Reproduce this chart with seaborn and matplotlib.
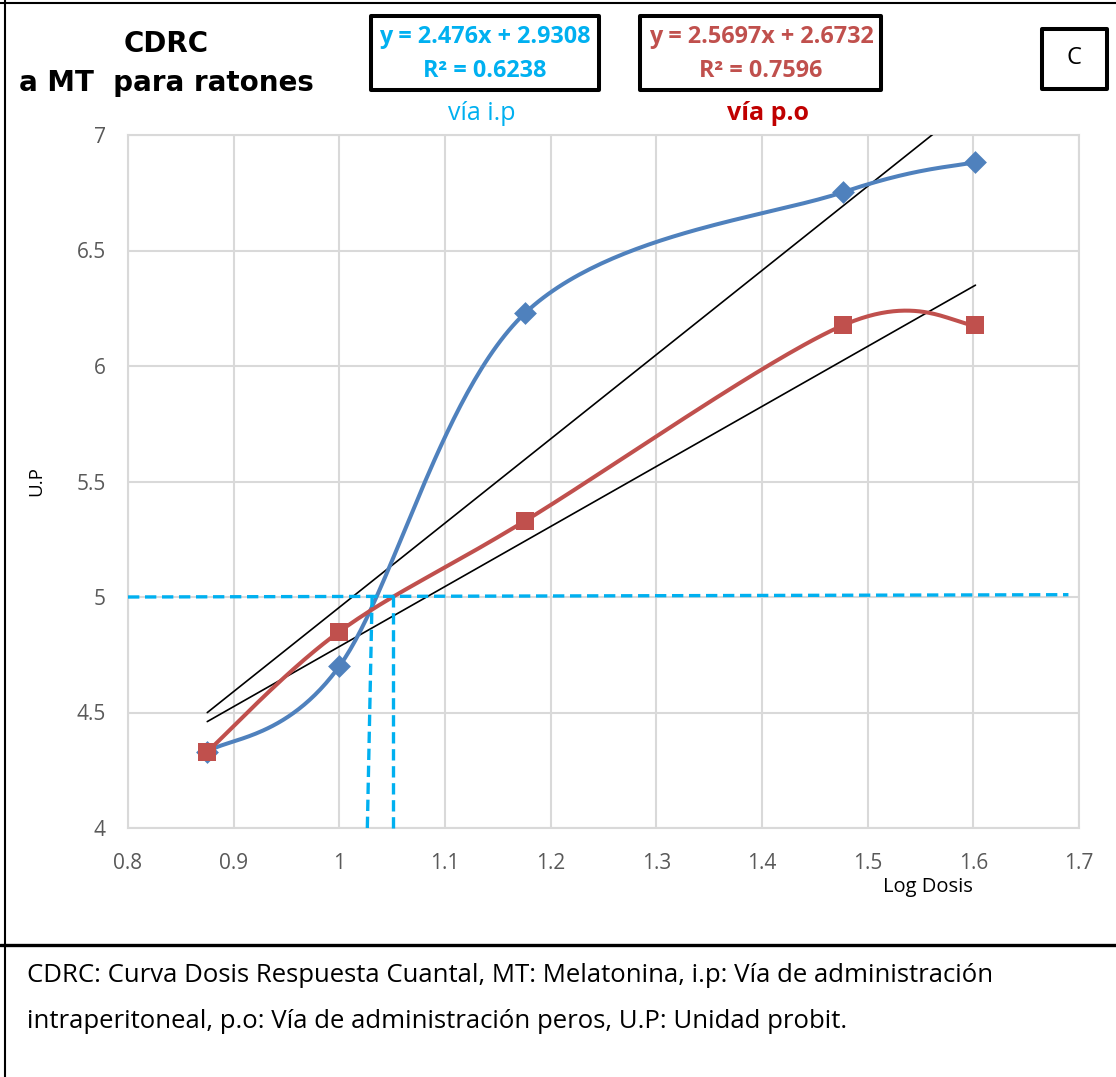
import numpy as np
import pandas as pd
import matplotlib
matplotlib.use("Agg")
import matplotlib.pyplot as plt
import seaborn as sns
from matplotlib.patches import Rectangle
from matplotlib.lines import Line2D

# ---------------- data ----------------
log_dosis = [0.875, 1.0, 1.176, 1.477, 1.602]
up_ip = [4.33, 4.70, 6.23, 6.753, 6.883]
up_po = [4.33, 4.85, 5.33, 6.177, 6.177]

eq_ip = ["y = 2.476x + 2.9308", "R² = 0.6238"]
eq_po = ["y = 2.5697x + 2.6732", "R² = 0.7596"]
label_ip = "vía i.p"
label_po = "vía p.o"
title_lines = ["CDRC", "a MT  para ratones"]
panel_letter = "C"
x_label = "Log Dosis"
y_label = "U.P"
caption_lines = ["CDRC: Curva Dosis Respuesta Cuantal, MT: Melatonina, i.p: Vía de administración",
                 "intraperitoneal, p.o: Vía de administración peros, U.P: Unidad probit."]

# reference guide (dashed) lines
guide_h_x = [0.8, 1.69]
guide_h_y = [5.0, 5.01]
guide_v1_x = [1.0265, 1.031]
guide_v1_y = [4.0, 5.0]
guide_v2_x = [1.0505, 1.0505]
guide_v2_y = [4.0, 5.02]

x_ticks = [0.8, 0.9, 1.0, 1.1, 1.2, 1.3, 1.4, 1.5, 1.6, 1.7]
x_ticklabels = ["0.8", "0.9", "1", "1.1", "1.2", "1.3", "1.4", "1.5", "1.6", "1.7"]
y_ticks = [4, 4.5, 5, 5.5, 6, 6.5, 7]
y_ticklabels = ["4", "4.5", "5", "5.5", "6", "6.5", "7"]

BLUE = "#4F81BD"
RED = "#C0504D"
CYAN = "#00B0F0"
DARKRED = "#C00000"
GRID = "#D9D9D9"
TICK = "#595959"


def smooth(xs, ys, n=60):
    """Excel-style smoothed line (Catmull-Rom cubic Bezier)."""
    P = np.column_stack([xs, ys]).astype(float)
    ext = np.vstack([P[0], P, P[-1]])
    out = []
    t = np.linspace(0, 1, n)[:, None]
    for i in range(len(P) - 1):
        p0 = ext[i + 1]
        p3 = ext[i + 2]
        c1 = p0 + (ext[i + 2] - ext[i]) / 6.0
        c2 = p3 - (ext[i + 3] - ext[i + 1]) / 6.0
        seg = ((1 - t) ** 3) * p0 + 3 * ((1 - t) ** 2) * t * c1 + 3 * (1 - t) * t ** 2 * c2 + t ** 3 * p3
        out.append(seg if i == 0 else seg[1:])
    s = np.vstack(out)
    return s[:, 0], s[:, 1]


sns.set_theme(style="white")
plt.rcParams["font.family"] = ["Open Sans", "DejaVu Sans"]

W, H = 1116, 1077
fig = plt.figure(figsize=(W / 100, H / 100), dpi=100)
fig.patch.set_facecolor("white")


def fx(px):
    return px / W


def fy(py):
    return 1 - py / H


ax = fig.add_axes([fx(128), fy(828), fx(1079) - fx(128), fy(135) - fy(828)])

# trend lines from linear fits of the data
xs_fit = np.array([log_dosis[0], log_dosis[-1]])
for yv in (up_ip, up_po):
    m, b = np.polyfit(log_dosis, yv, 1)
    ax.plot(xs_fit, m * xs_fit + b, color="black", lw=1.2, zorder=3)

# smoothed series
sx, sy = smooth(log_dosis, up_ip)
ax.plot(sx, sy, color=BLUE, lw=2.9, zorder=4, solid_capstyle="round")
sx, sy = smooth(log_dosis, up_po)
ax.plot(sx, sy, color=RED, lw=2.9, zorder=4, solid_capstyle="round")

df = pd.DataFrame({"x": log_dosis * 2,
                   "y": up_ip + up_po,
                   "via": ["ip"] * len(log_dosis) + ["po"] * len(log_dosis)})
sns.scatterplot(data=df[df.via == "ip"], x="x", y="y", marker="D", s=135,
                color=BLUE, edgecolor=BLUE, linewidth=0, ax=ax, zorder=5, legend=False)
sns.scatterplot(data=df[df.via == "po"], x="x", y="y", marker="s", s=175,
                color=RED, edgecolor=RED, linewidth=0, ax=ax, zorder=5, legend=False)

# dashed guide lines
for gx, gy in ((guide_h_x, guide_h_y), (guide_v1_x, guide_v1_y), (guide_v2_x, guide_v2_y)):
    ax.plot(gx, gy, color=CYAN, lw=2.4, ls=(0, (3.4, 1.7)), zorder=6, clip_on=False)

ax.set_xlim(0.8, 1.7)
ax.set_ylim(4, 7)
ax.set_xticks(x_ticks)
ax.set_xticklabels(x_ticklabels)
ax.set_yticks(y_ticks)
ax.set_yticklabels(y_ticklabels)
ax.tick_params(axis="both", length=0, labelsize=15, labelcolor=TICK)
ax.tick_params(axis="x", pad=18)
ax.tick_params(axis="y", pad=16)
ax.grid(True, color=GRID, lw=1.5)
ax.set_axisbelow(True)
for sp in ax.spines.values():
    sp.set_color(GRID)
    sp.set_linewidth(1.5)
ax.set_xlabel("")
ax.set_ylabel("")

fig.text(fx(928), fy(887), x_label, ha="center", va="center", fontsize=14.5, color="black")
fig.text(fx(36), fy(481), y_label, ha="center", va="center", fontsize=13.5, rotation=90, color="black")

# title
fig.text(fx(166), fy(44), title_lines[0], ha="center", va="center", fontsize=20,
         fontweight="bold", color="black", family="DejaVu Sans")
fig.text(fx(166), fy(83), title_lines[1], ha="center", va="center", fontsize=20,
         fontweight="bold", color="black", family="DejaVu Sans")


# equation boxes
def box(x0, y0, x1, y1, lw):
    fig.patches.append(Rectangle((fx(x0), fy(y1)), fx(x1) - fx(x0), fy(y0) - fy(y1),
                                 transform=fig.transFigure, fill=False, ec="black", lw=lw,
                                 joinstyle="round", zorder=10))

box(371, 16, 599, 90, 2.9)
box(640, 16, 881, 90, 2.9)
box(1042, 29, 1107, 89, 2.9)

fig.text(fx(485), fy(37), eq_ip[0], ha="center", va="center", fontsize=16.8, fontweight="bold",
         color=CYAN)
fig.text(fx(485), fy(71), eq_ip[1], ha="center", va="center", fontsize=16.8, fontweight="bold",
         color=CYAN)
fig.text(fx(761), fy(37), eq_po[0], ha="center", va="center", fontsize=16.8, fontweight="bold",
         color=RED)
fig.text(fx(761), fy(71), eq_po[1], ha="center", va="center", fontsize=16.8, fontweight="bold",
         color=RED)
fig.text(fx(1074), fy(58), panel_letter, ha="center", va="center", fontsize=17, color="black")
fig.text(fx(482), fy(113), label_ip, ha="center", va="center", fontsize=18, color=CYAN)
fig.text(fx(768), fy(113), label_po, ha="center", va="center", fontsize=18, fontweight="bold",
         color=DARKRED)

# outer borders
fig.add_artist(Line2D([0, 1], [fy(3), fy(3)], transform=fig.transFigure, color="black", lw=1.5))
fig.add_artist(Line2D([fx(5), fx(5)], [0, 1], transform=fig.transFigure, color="black", lw=1.5))
fig.add_artist(Line2D([0, 1], [fy(945), fy(945)], transform=fig.transFigure, color="black", lw=2.4))

fig.text(fx(27), fy(975), caption_lines[0], ha="left", va="center", fontsize=18.5, color="black")
fig.text(fx(27), fy(1022), caption_lines[1], ha="left", va="center", fontsize=18.5, color="black")

fig.savefig("out.png", dpi=100)
